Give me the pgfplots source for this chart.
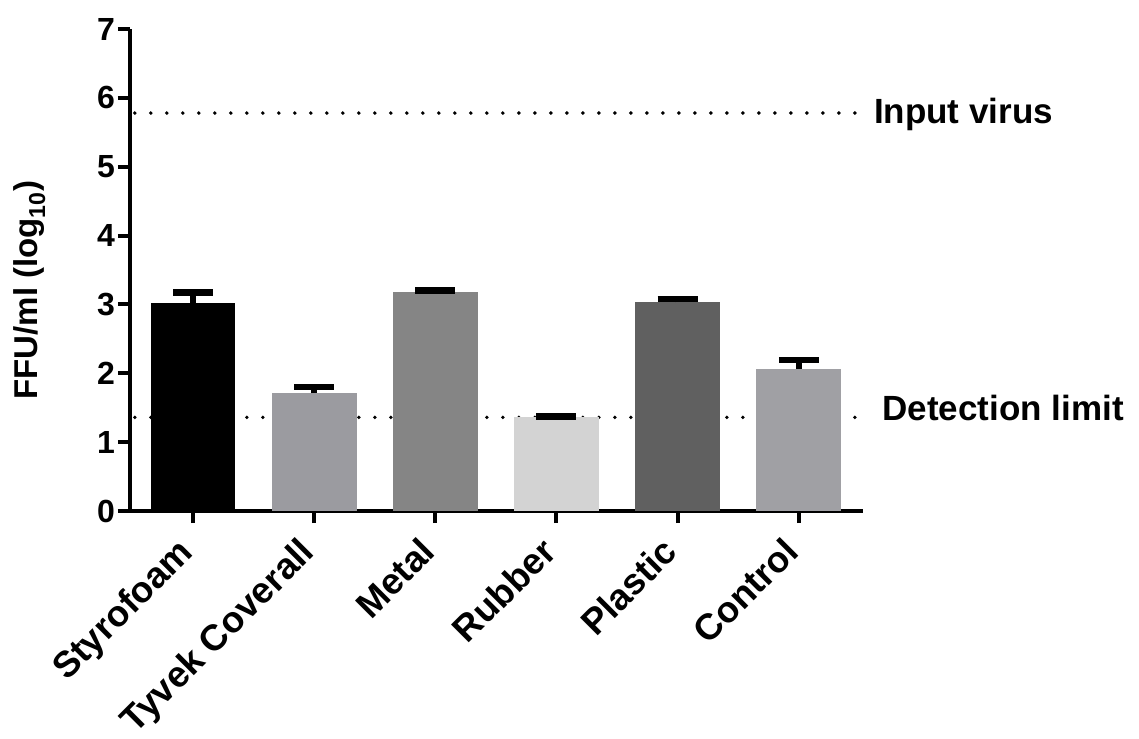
\documentclass[border=0pt]{standalone}
\usepackage{fontspec}
\setmainfont{Liberation Sans}
\usepackage{pgfplots}
\pgfplotsset{compat=1.18}
\definecolor{styro}{RGB}{0,0,0}
\definecolor{tyvek}{RGB}{155,155,160}
\definecolor{metal}{RGB}{133,133,133}
\definecolor{rubber}{RGB}{211,211,211}
\definecolor{plastic}{RGB}{96,96,96}
\definecolor{control}{RGB}{160,160,164}
\pgfplotsset{mybar/.style={ybar, bar width=0.7, bar shift=0pt, draw=none, fill=#1,
  error bars/y dir=plus, error bars/y explicit,
  error bars/error bar style={line width=6pt, draw=black},
  error bars/error mark options={rotate=90, mark size=20pt, line width=6.5pt, draw=black}}}
\begin{document}
\begin{tikzpicture}
\useasboundingbox (0pt,0pt) rectangle (1139pt,-738pt);
\begin{axis}[
  at={(130pt,-511pt)}, anchor=south west,
  width=733pt, height=482pt, scale only axis,
  xmin=-0.52, xmax=5.53, ymin=0, ymax=7,
  axis lines=left,
  axis line style={line width=4.5pt, -, black},
  tick align=outside,
  major tick length=12pt,
  tick style={line width=4pt, black},
  xtick={0,1,2,3,4,5},
  xticklabels={Styrofoam, Tyvek Coverall, Metal, Rubber, Plastic, Control},
  ytick={0,1,2,3,4,5,6,7},
  /pgf/number format/assume math mode=true,
  yticklabel style={font=\fontsize{32}{38}\selectfont\bfseries, inner sep=3pt},
  xticklabel style={font=\fontsize{36.5}{40}\selectfont\bfseries, xshift=-17pt, yshift=-8pt, rotate=45, anchor=north east, inner sep=3pt},
  ylabel={FFU/ml (log\textsubscript{10})},
  every axis y label/.style={at={(axis description cs:-0.137,0.458)}, rotate=90, anchor=center, font=\fontsize{33}{38}\selectfont\bfseries},
  clip=false,
]
% detection limit line (behind bars)
\addplot[line width=3.8pt, line cap=round, dash pattern=on 0pt off 16pt, black] coordinates {(-0.48,1.36) (5.5,1.36)};
\addplot[mybar=styro] coordinates {(0,3.02) +- (0,0.15)};
\addplot[mybar=tyvek] coordinates {(1,1.71) +- (0,0.09)};
\addplot[mybar=metal] coordinates {(2,3.18) +- (0,0.02)};
\addplot[mybar=rubber] coordinates {(3,1.36) +- (0,0.01)};
\addplot[mybar=plastic] coordinates {(4,3.03) +- (0,0.05)};
\addplot[mybar=control] coordinates {(5,2.06) +- (0,0.13)};
\end{axis}
\begin{axis}[
  at={(130pt,-511pt)}, anchor=south west,
  width=733pt, height=482pt, scale only axis,
  xmin=-0.52, xmax=5.53, ymin=0, ymax=7,
  axis lines=none, clip=false,
]
\addplot[line width=3.8pt, line cap=round, dash pattern=on 0pt off 16pt, black] coordinates {(-0.48,5.78) (5.5,5.78)};
\node[anchor=base west, inner sep=0pt, font=\fontsize{35}{40}\selectfont\bfseries] at (axis cs:5.62,5.63) {Input virus};
\node[anchor=base west, inner sep=0pt, font=\fontsize{35}{40}\selectfont\bfseries] at (axis cs:5.69,1.32) {Detection limit};
\end{axis}
\end{tikzpicture}
\end{document}
